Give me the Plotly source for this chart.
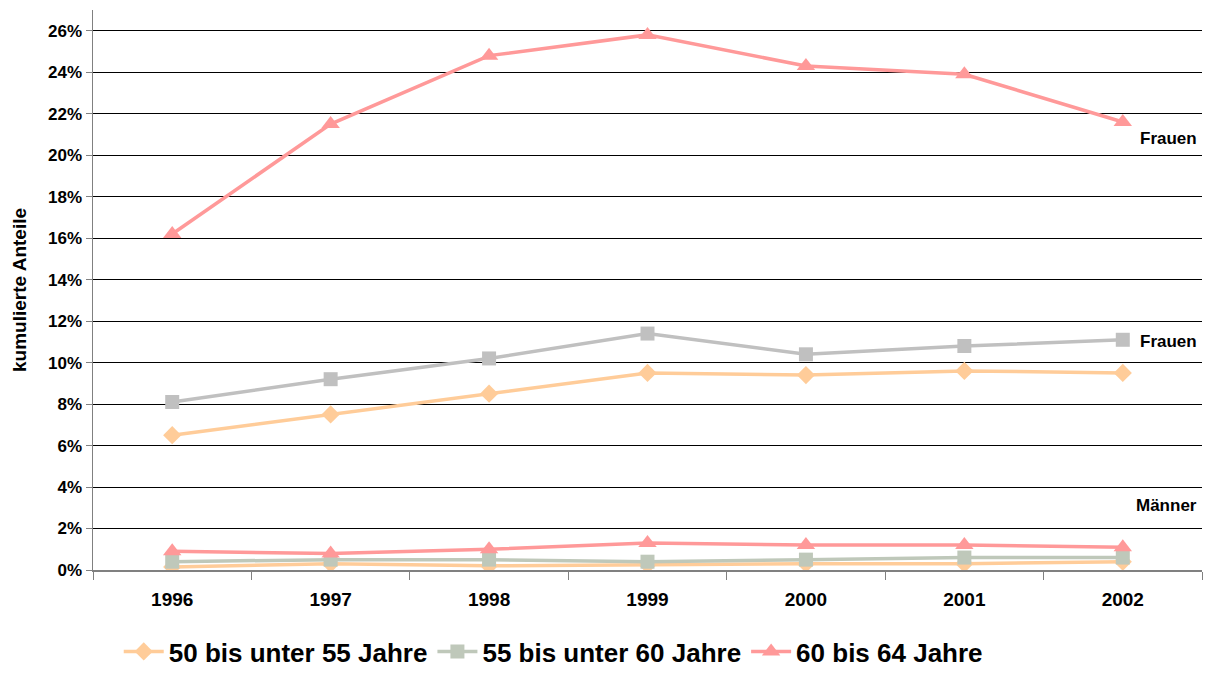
import plotly.graph_objects as go

years = ["1996", "1997", "1998", "1999", "2000", "2001", "2002"]
frauen_50_55 = [6.5, 7.5, 8.5, 9.5, 9.4, 9.6, 9.5]
frauen_55_60 = [8.1, 9.2, 10.2, 11.4, 10.4, 10.8, 11.1]
frauen_60_64 = [16.2, 21.5, 24.8, 25.8, 24.3, 23.9, 21.6]
maenner_50_55 = [0.15, 0.3, 0.2, 0.25, 0.3, 0.3, 0.4]
maenner_55_60 = [0.4, 0.5, 0.5, 0.4, 0.5, 0.6, 0.6]
maenner_60_64 = [0.9, 0.8, 1.0, 1.3, 1.2, 1.2, 1.1]
series_names = ["50 bis unter 55 Jahre", "55 bis unter 60 Jahre", "60 bis 64 Jahre"]
labels = [("Frauen", 20.8), ("Frauen", 11.0), ("Männer", 3.1)]
y_ticks = list(range(0, 27, 2))

ORANGE = "#FFCC99"
GRAY_F = "#C0C0C0"
GRAY_M = "#BFC8BA"
PINK = "#FF9999"
FONT = "Liberation Sans, Arial, sans-serif"

fig = go.Figure()

def add(y, color, symbol, size, name, show):
    fig.add_trace(go.Scatter(
        x=years, y=[v / 100 for v in y], mode="lines+markers", name=name,
        showlegend=show, hoverinfo="skip",
        line=dict(color=color, width=3.5),
        marker=dict(symbol=symbol, size=size, color=color),
    ))

add(frauen_50_55, ORANGE, "diamond", 14, series_names[0], False)
add(frauen_55_60, GRAY_F, "square", 14, series_names[1], False)
add(frauen_60_64, PINK, "triangle-up", 16, series_names[2], False)
add(maenner_50_55, ORANGE, "diamond", 14, series_names[0], True)
add(maenner_55_60, GRAY_M, "square", 14, series_names[1], True)
add(maenner_60_64, PINK, "triangle-up", 16, series_names[2], True)

for txt, yv in labels:
    fig.add_annotation(x=1, xref="paper", xanchor="right", xshift=-3, y=yv / 100, yref="y",
                       text=txt, showarrow=False,
                       font=dict(family=FONT, size=17, color="black", weight="bold"))

fig.update_layout(
    width=1207, height=675,
    margin=dict(l=93, r=5, t=10, b=105, autoexpand=False),
    plot_bgcolor="white", paper_bgcolor="white",
    font=dict(family=FONT, color="black"),
    legend=dict(orientation="h", x=0.415, xanchor="center",
                yref="container", y=0.0, yanchor="bottom",
                font=dict(family=FONT, size=26, color="black", weight="bold"),
                itemwidth=40, tracegroupgap=0, traceorder="normal"),
)
fig.update_xaxes(
    type="category", range=[-0.5, 6.5], tickson="boundaries",
    ticks="outside", ticklen=8, tickcolor="#808080",
    showline=True, linecolor="#808080", linewidth=1.5,
    showgrid=False, tickfont=dict(family=FONT, size=19, weight="bold"),
    ticklabelstandoff=12, automargin=False,
)
fig.update_yaxes(
    range=[0, 0.27], tickvals=[t / 100 for t in y_ticks],
    ticktext=["%d%%" % t for t in y_ticks],
    ticks="outside", ticklen=6, tickcolor="#808080",
    showline=True, linecolor="#808080", linewidth=1.5,
    showgrid=True, gridcolor="black", gridwidth=1,
    zeroline=False, tickfont=dict(family=FONT, size=17, weight="bold"),
    automargin=False,
    title=dict(text="kumulierte Anteile", font=dict(family=FONT, size=19, weight="bold"), standoff=16),
)

fig.write_html(
    "out.html",
    config={"displayModeBar": False, "staticPlot": True},
    post_script=(
        "document.documentElement.style.margin='0';"
        "document.documentElement.style.padding='0';"
        "document.documentElement.style.overflow='hidden';"
        "document.body.style.margin='0';"
        "document.body.style.padding='0';"
        "document.body.style.overflow='hidden';"
    ),
)
